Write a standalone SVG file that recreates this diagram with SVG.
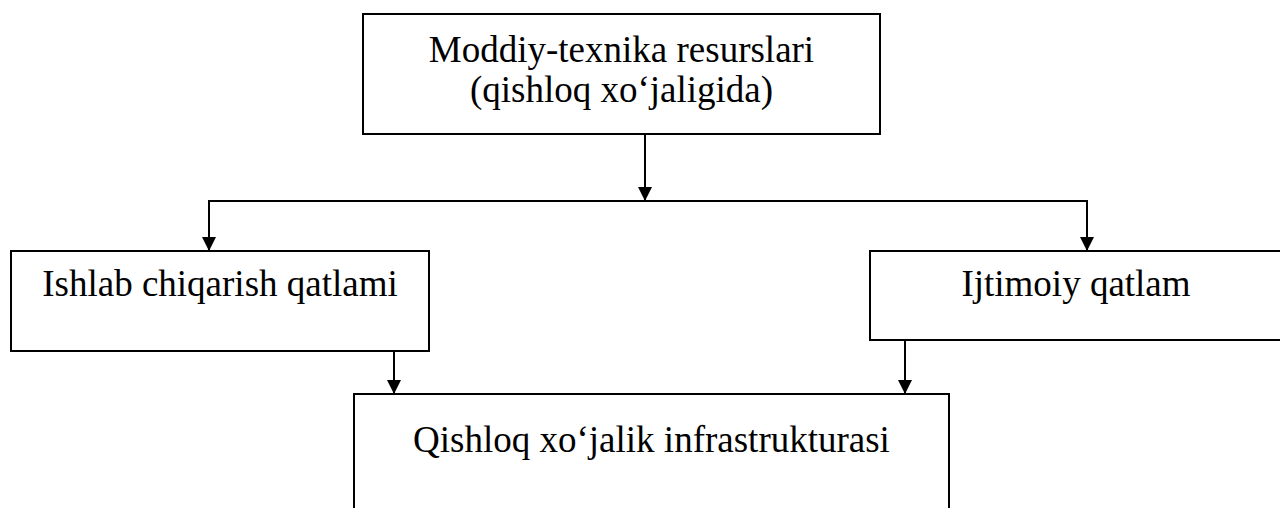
<svg xmlns="http://www.w3.org/2000/svg" width="1280" height="508" viewBox="0 0 1280 508">
<style>
.box{fill:#fff;stroke:#000;stroke-width:2}
.lbl{font-family:"Liberation Serif","Times New Roman",serif;font-size:37px;fill:#000;text-anchor:middle}
.con{fill:none;stroke:#000;stroke-width:2}
</style>
<defs>
<marker id="ah" markerUnits="userSpaceOnUse" markerWidth="14" markerHeight="16" viewBox="0 0 14 16" refX="14" refY="7" orient="auto">
<path d="M0,0 L14,7 L0,14 Z" fill="#000"/>
</marker>
</defs>
<rect width="1280" height="508" fill="#fff"/>
<g id="connectors">
<line class="con" x1="645" y1="134" x2="645" y2="201" marker-end="url(#ah)"/>
<polyline class="con" points="209,251 209,201 1087,201 1087,251"/>
<line class="con" x1="209" y1="201" x2="209" y2="251" marker-end="url(#ah)"/>
<line class="con" x1="1087" y1="201" x2="1087" y2="251" marker-end="url(#ah)"/>
<line class="con" x1="394" y1="351" x2="394" y2="394" marker-end="url(#ah)"/>
<line class="con" x1="905" y1="340" x2="905" y2="394" marker-end="url(#ah)"/>
</g>
<g id="node-top">
<rect class="box" x="363" y="14" width="517" height="120"/>
<text class="lbl" x="621.5" y="62">Moddiy-texnika resurslari</text>
<text class="lbl" x="621.5" y="102">(qishloq xo‘jaligida)</text>
</g>
<g id="node-ishlab">
<rect class="box" x="11" y="251" width="418" height="100"/>
<text class="lbl" x="220" y="296">Ishlab chiqarish qatlami</text>
</g>
<g id="node-ijtimoiy">
<rect class="box" x="870" y="251" width="420" height="89"/>
<text class="lbl" x="1076" y="296">Ijtimoiy qatlam</text>
</g>
<g id="node-infra">
<rect class="box" x="354" y="394" width="595" height="130"/>
<text class="lbl" x="651.5" y="452">Qishloq xo‘jalik infrastrukturasi</text>
</g>
</svg>
